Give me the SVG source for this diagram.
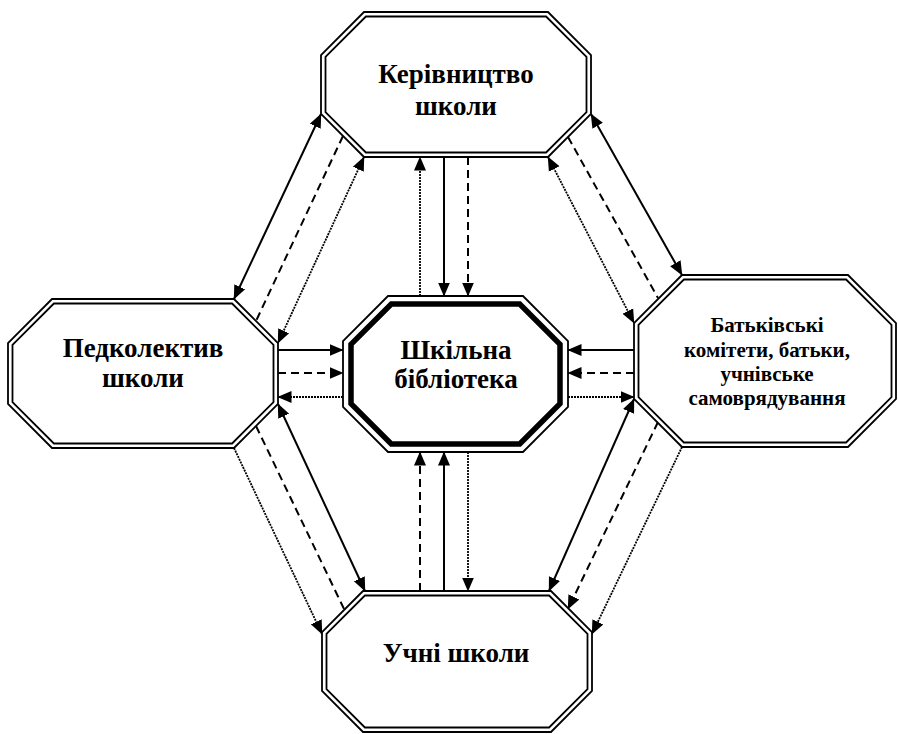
<svg xmlns="http://www.w3.org/2000/svg" width="898" height="734" viewBox="0 0 898 734">
<defs>
<marker id="ah" viewBox="0 0 14 14" markerUnits="userSpaceOnUse" markerWidth="14" markerHeight="14" refX="13.5" refY="7" orient="auto-start-reverse">
<path d="M0,1 L14,7 L0,13 Z" fill="#000"/>
</marker>
<style>
.o{fill:#fff;stroke:#000;stroke-width:1.8}
.i{fill:none;stroke:#000;stroke-width:1.8}
.th{fill:none;stroke:#000;stroke-width:5.5;stroke-linejoin:miter}
.t{font-family:"Liberation Serif","DejaVu Serif",serif;font-weight:bold;fill:#000;text-anchor:middle}
.s{stroke:#000;stroke-width:2;fill:none}
.d{stroke:#000;stroke-width:2;fill:none;stroke-dasharray:8 5}
.p{stroke:#000;stroke-width:1.8;fill:none;stroke-dasharray:2 1}
.e{marker-end:url(#ah)}
.b{marker-start:url(#ah);marker-end:url(#ah)}
</style>
</defs>
<rect width="898" height="734" fill="#fff"/>
<g id="connectors">
<line class="p e" x1="420" y1="296" x2="420" y2="157"/>
<line class="s e" x1="444" y1="157" x2="444" y2="296"/>
<line class="d e" x1="468" y1="157" x2="468" y2="296"/>
<line class="d e" x1="420" y1="591" x2="420" y2="452"/>
<line class="s e" x1="444" y1="591" x2="444" y2="452"/>
<line class="p e" x1="468" y1="452" x2="468" y2="591"/>
<line class="s e" x1="278" y1="350" x2="343" y2="350"/>
<line class="d e" x1="278" y1="373" x2="343" y2="373"/>
<line class="p e" x1="343" y1="397" x2="278" y2="397"/>
<line class="s e" x1="634" y1="350" x2="568" y2="350"/>
<line class="d e" x1="634" y1="373" x2="568" y2="373"/>
<line class="p e" x1="568" y1="397" x2="634" y2="397"/>
<line class="s b" x1="321" y1="114" x2="234" y2="299"/>
<line class="d" x1="343" y1="136" x2="256" y2="321"/>
<line class="p b" x1="364" y1="157" x2="278" y2="343"/>
<line class="s b" x1="591" y1="114" x2="682" y2="275"/>
<line class="d" x1="568" y1="137" x2="658" y2="298"/>
<line class="p b" x1="548" y1="157" x2="634" y2="323"/>
<line class="s b" x1="278" y1="404" x2="365" y2="591"/>
<line class="d" x1="256" y1="426" x2="345" y2="611"/>
<line class="p e" x1="234" y1="448" x2="322" y2="634"/>
<line class="s b" x1="634" y1="399" x2="549" y2="591"/>
<line class="d e" x1="658" y1="422" x2="568" y2="609"/>
<line class="p e" x1="682" y1="447" x2="592" y2="634"/>
</g>
<g id="top-node">
<polygon class="o" points="364,12 548,12 591,55 591,114 548,157 364,157 321,114 321,55"/>
<polygon class="i" points="365.9,16.5 546.1,16.5 586.5,56.9 586.5,112.1 546.1,152.5 365.9,152.5 325.5,112.1 325.5,56.9"/>
<text class="t" x="456" y="83" font-size="27">Керівництво</text>
<text class="t" x="456" y="115" font-size="27">школи</text>
</g>
<g id="left-node">
<polygon class="o" points="52,299 234,299 278,343 278,404 234,448 52,448 8,404 8,343"/>
<polygon class="i" points="53.9,303.5 232.1,303.5 273.5,344.9 273.5,402.1 232.1,443.5 53.9,443.5 12.5,402.1 12.5,344.9"/>
<text class="t" x="143" y="357" font-size="27">Педколектив</text>
<text class="t" x="143" y="387" font-size="27">школи</text>
</g>
<g id="right-node">
<polygon class="o" points="682,275 848,275 896,323 896,399 848,447 682,447 634,399 634,323"/>
<polygon class="i" points="683.9,279.5 846.1,279.5 891.5,324.9 891.5,397.1 846.1,442.5 683.9,442.5 638.5,397.1 638.5,324.9"/>
<text class="t" x="767" y="332" font-size="21">Батьківські</text>
<text class="t" x="767" y="357" font-size="21">комітети, батьки,</text>
<text class="t" x="767" y="381" font-size="21">учнівське</text>
<text class="t" x="767" y="405" font-size="21">самоврядування</text>
</g>
<g id="bottom-node">
<polygon class="o" points="363,591 551,591 592,632 592,691 551,732 363,732 322,691 322,632"/>
<polygon class="i" points="364.9,595.5 549.1,595.5 587.5,633.9 587.5,689.1 549.1,727.5 364.9,727.5 326.5,689.1 326.5,633.9"/>
<text class="t" x="456" y="662" font-size="27">Учні школи</text>
</g>
<g id="center-node">
<polygon class="o" points="388,296 523,296 568,341 568,407 523,452 388,452 343,407 343,341"/>
<polygon class="th" points="391.3,304 519.7,304 560,344.3 560,403.7 519.7,444 391.3,444 351,403.7 351,344.3"/>
<text class="t" x="456" y="359" font-size="27">Шкільна</text>
<text class="t" x="456" y="388" font-size="27">бібліотека</text>
</g>
</svg>
